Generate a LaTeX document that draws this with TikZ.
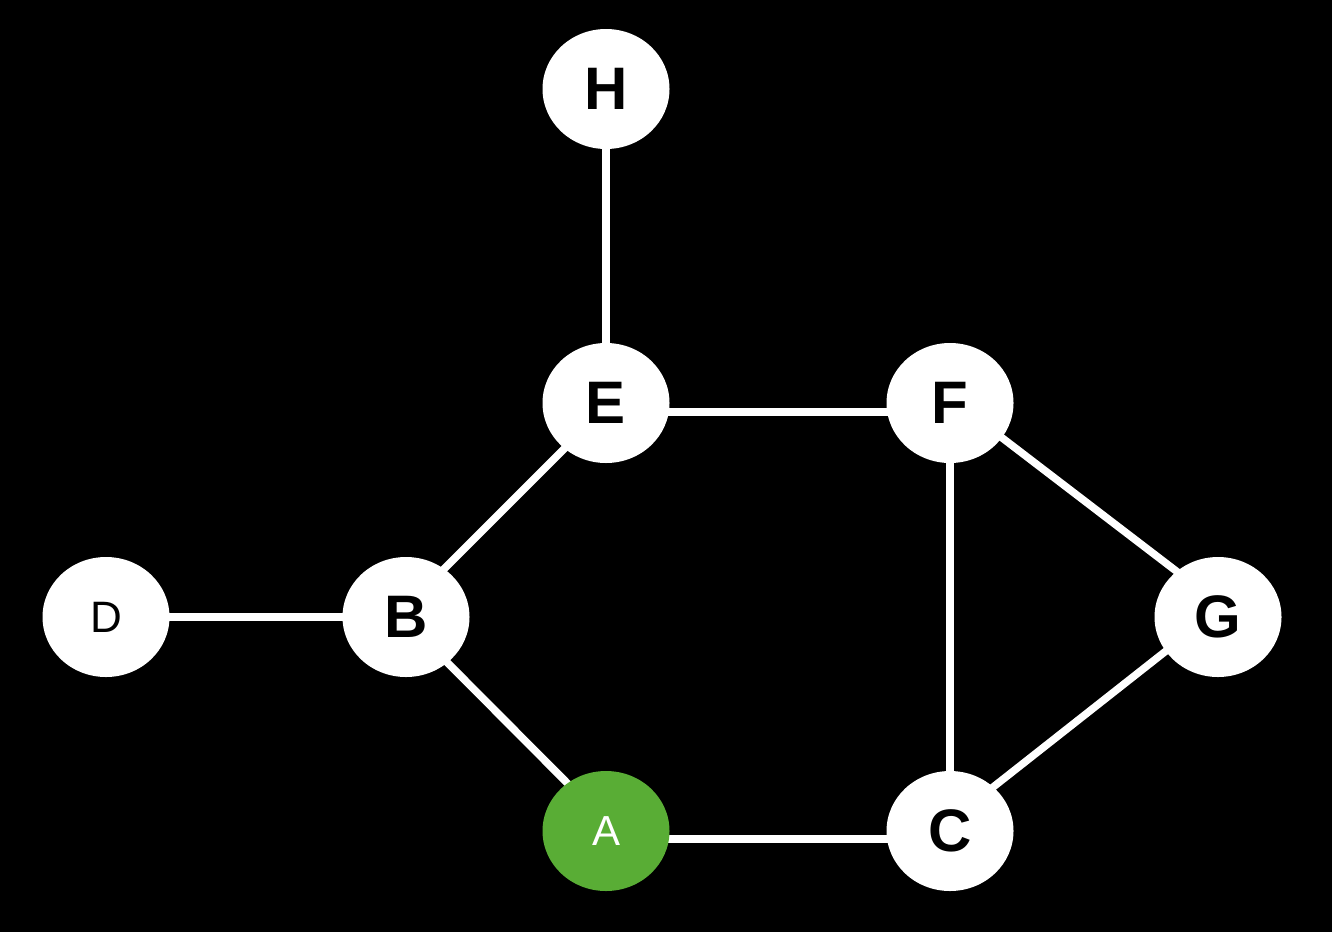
\documentclass[tikz,border=0pt]{standalone}
\usepackage{fontspec}
\setmainfont{Liberation Sans}
\usetikzlibrary{shapes.geometric}
\pgfdeclarelayer{edges}
\pgfdeclarelayer{bg}
\pgfsetlayers{bg,edges,main}
\definecolor{nodegreen}{RGB}{89,173,53}
\tikzset{
  vertex/.style={ellipse, fill=white, draw=none, inner sep=0pt, minimum width=127pt, minimum height=120pt, text=black, font=\fontsize{60}{72}\selectfont\bfseries},
  lightvertex/.style={vertex, font=\fontsize{44}{52}\selectfont},
  startvertex/.style={vertex, fill=nodegreen, text=white, font=\fontsize{42}{50}\selectfont},
  edge/.style={draw=white, line width=7.5pt}
}
\begin{document}
\begin{tikzpicture}[x=1pt, y=-1pt]
\begin{pgfonlayer}{bg}
\fill[black] (0,0) rectangle (1332,932);
\end{pgfonlayer}
\useasboundingbox (0,0) rectangle (1332,932);
\node[vertex] (H) at (606,89) {H};
\node[vertex] (E) at (606,403) {E};
\node[vertex] (F) at (950,403) {F};
\node[lightvertex] (D) at (106,617) {D};
\node[vertex] (B) at (406,617) {B};
\node[vertex] (G) at (1218,617) {G};
\node[startvertex] (A) at (606,831) {A};
\node[vertex] (C) at (950,831) {C};
\begin{pgfonlayer}{edges}
\draw[edge] (H.center) -- (E.center);
\draw[edge] ([yshift=-9pt]E.center) -- ([yshift=-9pt]F.center);
\draw[edge] ([yshift=-4pt]E.center) -- ([yshift=10pt]B.center);
\draw[edge] (D.center) -- (B.center);
\draw[edge] ([yshift=-4pt]B.center) -- ([yshift=9pt]A.center);
\draw[edge] ([yshift=-8pt]A.center) -- ([yshift=-8pt]C.center);
\draw[edge] (F.center) -- (C.center);
\draw[edge] ([yshift=5pt]F.center) -- ([yshift=14pt]G.center);
\draw[edge] ([yshift=7pt]G.center) -- ([yshift=10pt]C.center);
\end{pgfonlayer}
\end{tikzpicture}
\end{document}
